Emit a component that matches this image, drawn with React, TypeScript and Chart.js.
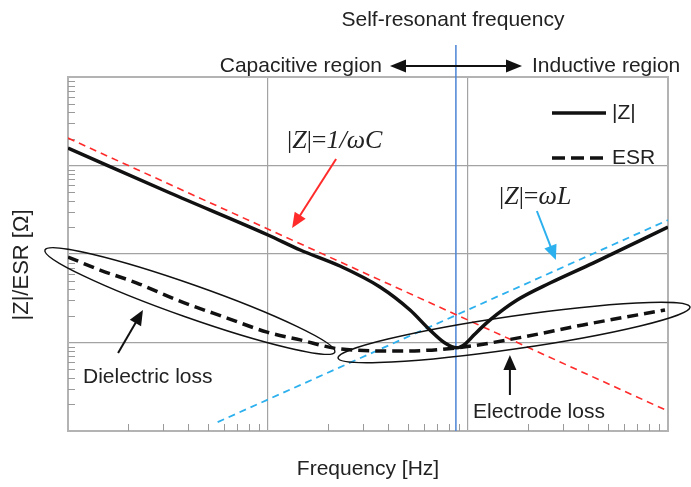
import React, { useEffect, useRef } from 'react';
import { Chart, registerables } from 'chart.js';

Chart.register(...registerables);

// ---- axis structure ----
const xDecades = [1, 10, 100, 1000];
const yDecades = [1, 10, 100, 1000, 10000];
const minorMultipliers = [2, 3, 4, 5, 6, 7, 8, 9];

// ---- series ----
const zFreq = [1, 3.24, 10, 14.5, 22.9, 36.3, 51.3, 64.6, 76.7, 88, 96.6, 108, 129, 176, 257, 422, 1000];
const zValues = [1577, 489, 164, 111, 73.2, 42.4, 23.3, 13.8, 9.87, 8.7, 9.6, 12.4, 18, 30.2, 47, 79, 202];

const esrFreq = [1, 1.445, 2.21, 3.51, 6.24, 9.9, 14.5, 22.9, 45.7, 88, 176, 376, 966];
const esrValues = [92.5, 65.9, 47, 30.2, 18.9, 13.1, 10.7, 8.45, 8.0, 8.7, 11.2, 15.8, 23.3];

const capFreq = [1, 1000];
const capValues = [2040, 1.68];

const indFreq = [5.6, 1000];
const indValues = [1.26, 242];

const resonantFreq = 87;

// ---- annotations in data space: [freq, value] ----
const dielectricEllipse = [[0.767, 111], [21.6, 7.81]];
const electrodeEllipse = [[22.4, 6.68], [1288, 25.2]];
const capArrow = [[21.9, 1184], [13.2, 197]];
const indArrow = [[221, 306], [275, 85.5]];
const dielectricArrow = [[1.78, 7.6], [2.37, 23.3]];
const electrodeArrow = [[162, 2.55], [162, 7.22]];

const SANS = '"Liberation Sans", Arial, sans-serif';
const SERIF = '"Liberation Serif", "Times New Roman", serif';
const RED = '#ff2b2b';
const SKY = '#2db0ee';

function toPts(fs: number[], vs: number[]) {
  return fs.map((f, i) => ({ x: f, y: vs[i] }));
}

function arrow(ctx: CanvasRenderingContext2D, x1: number, y1: number, x2: number, y2: number, color: string, lw: number, hl: number, hw: number) {
  const ang = Math.atan2(y2 - y1, x2 - x1);
  ctx.save();
  ctx.strokeStyle = color;
  ctx.fillStyle = color;
  ctx.lineWidth = lw;
  ctx.beginPath();
  ctx.moveTo(x1, y1);
  ctx.lineTo(x2 - Math.cos(ang) * hl * 0.8, y2 - Math.sin(ang) * hl * 0.8);
  ctx.stroke();
  ctx.beginPath();
  ctx.moveTo(x2, y2);
  ctx.lineTo(x2 - Math.cos(ang) * hl + Math.sin(ang) * hw / 2, y2 - Math.sin(ang) * hl - Math.cos(ang) * hw / 2);
  ctx.lineTo(x2 - Math.cos(ang) * hl - Math.sin(ang) * hw / 2, y2 - Math.sin(ang) * hl + Math.cos(ang) * hw / 2);
  ctx.closePath();
  ctx.fill();
  ctx.restore();
}

function richText(ctx: CanvasRenderingContext2D, segs: [string, boolean][], x: number, y: number, size: number) {
  let cx = x;
  ctx.save();
  ctx.textBaseline = 'middle';
  ctx.textAlign = 'left';
  ctx.fillStyle = '#222';
  for (const [t, it] of segs) {
    ctx.font = `${it ? 'italic ' : ''}${size}px ${SERIF}`;
    ctx.fillText(t, cx, y);
    cx += ctx.measureText(t).width;
  }
  ctx.restore();
}

const annotate = {
  id: 'annotate',
  beforeDatasetsDraw(chart: any) {
    const { ctx, chartArea: a, scales } = chart;
    const xs = scales.x;
    const ys = scales.y;
    ctx.save();
    // border box
    ctx.strokeStyle = '#b3b3b3';
    ctx.lineWidth = 2;
    ctx.strokeRect(a.left, a.top, a.right - a.left, a.bottom - a.top);
    // minor ticks
    ctx.strokeStyle = '#9a9a9a';
    ctx.lineWidth = 1;
    for (const d of yDecades.slice(0, -1)) {
      for (const m of minorMultipliers) {
        const py = Math.round(ys.getPixelForValue(d * m)) + 0.5;
        ctx.beginPath();
        ctx.moveTo(a.left, py);
        ctx.lineTo(a.left + 7, py);
        ctx.stroke();
      }
    }
    for (const d of xDecades.slice(0, -1)) {
      for (const m of minorMultipliers) {
        const px = Math.round(xs.getPixelForValue(d * m)) + 0.5;
        ctx.beginPath();
        ctx.moveTo(px, a.bottom);
        ctx.lineTo(px, a.bottom - 7);
        ctx.stroke();
      }
    }
    // self-resonant line
    const rx = xs.getPixelForValue(resonantFreq);
    ctx.strokeStyle = '#4a84d6';
    ctx.lineWidth = 1.5;
    ctx.beginPath();
    ctx.moveTo(rx, 45);
    ctx.lineTo(rx, a.bottom);
    ctx.stroke();
    ctx.restore();
  },
  afterDraw(chart: any) {
    const { ctx, scales } = chart;
    const xs = scales.x;
    const ys = scales.y;
    const P = (p: number[]) => [xs.getPixelForValue(p[0]), ys.getPixelForValue(p[1])];
    ctx.save();
    // ellipses
    ctx.strokeStyle = '#111';
    ctx.lineWidth = 1.5;
    for (const e of [dielectricEllipse, electrodeEllipse]) {
      const [x1, y1] = P(e[0]);
      const [x2, y2] = P(e[1]);
      const rx = Math.hypot(x2 - x1, y2 - y1) / 2;
      ctx.beginPath();
      ctx.ellipse((x1 + x2) / 2, (y1 + y2) / 2, rx, 16.5, Math.atan2(y2 - y1, x2 - x1), 0, Math.PI * 2);
      ctx.stroke();
    }
    // arrows
    const drawA = (ar: number[][], color: string) => {
      const [x1, y1] = P(ar[0]);
      const [x2, y2] = P(ar[1]);
      arrow(ctx, x1, y1, x2, y2, color, 2, 15, 13);
    };
    drawA(capArrow, RED);
    drawA(indArrow, SKY);
    drawA(dielectricArrow, '#111');
    drawA(electrodeArrow, '#111');

    // top double arrow
    arrow(ctx, 456, 66, 390, 66, '#111', 2, 16, 13);
    arrow(ctx, 456, 66, 522, 66, '#111', 2, 16, 13);

    // texts
    ctx.fillStyle = '#222';
    ctx.textBaseline = 'middle';
    ctx.font = `21px ${SANS}`;
    ctx.textAlign = 'center';
    ctx.fillText('Self-resonant frequency', 453, 20);
    ctx.textAlign = 'right';
    ctx.fillText('Capacitive region', 382, 66);
    ctx.textAlign = 'left';
    ctx.fillText('Inductive region', 532, 66);
    ctx.fillText('Dielectric loss', 83, 377);
    ctx.fillText('Electrode loss', 473, 412);

    // y axis title
    ctx.save();
    ctx.translate(22, 265);
    ctx.rotate(-Math.PI / 2);
    ctx.textAlign = 'center';
    ctx.font = `22px ${SANS}`;
    ctx.fillText('|Z|/ESR [Ω]', 0, 0);
    ctx.restore();

    // legend
    ctx.strokeStyle = '#111';
    ctx.lineWidth = 3.5;
    ctx.beginPath();
    ctx.moveTo(552, 113);
    ctx.lineTo(606, 113);
    ctx.stroke();
    ctx.setLineDash([13, 6]);
    ctx.beginPath();
    ctx.moveTo(552, 158);
    ctx.lineTo(606, 158);
    ctx.stroke();
    ctx.setLineDash([]);
    ctx.fillText('|Z|', 612, 113);
    ctx.fillText('ESR', 612, 158);

    richText(ctx, [['|', false], ['Z', true], ['|=', false], ['1/ωC', true]], 287, 141, 26);
    richText(ctx, [['|', false], ['Z', true], ['|=', false], ['ωL', true]], 499, 197, 26);
    ctx.restore();
  },
};

export default function App() {
  const ref = useRef<HTMLCanvasElement | null>(null);
  useEffect(() => {
    if (!ref.current) return;
    const chart = new Chart(ref.current, {
      type: 'line',
      data: {
        datasets: [
          {
            label: '|Z|',
            data: toPts(zFreq, zValues),
            borderColor: '#111',
            borderWidth: 3.5,
            pointRadius: 0,
            cubicInterpolationMode: 'monotone',
          },
          {
            label: 'ESR',
            data: toPts(esrFreq, esrValues),
            borderColor: '#111',
            borderWidth: 3.5,
            borderDash: [11, 6],
            pointRadius: 0,
            cubicInterpolationMode: 'monotone',
          },
          {
            label: '|Z|=1/ωC',
            data: toPts(capFreq, capValues),
            borderColor: RED,
            borderWidth: 1.6,
            borderDash: [7, 5],
            pointRadius: 0,
          },
          {
            label: '|Z|=ωL',
            data: toPts(indFreq, indValues),
            borderColor: SKY,
            borderWidth: 1.8,
            borderDash: [7, 5],
            pointRadius: 0,
          },
        ],
      },
      options: {
        animation: false,
        responsive: false,
        devicePixelRatio: 1,
        layout: { padding: { top: 77, right: 23, left: 0, bottom: 0 } },
        plugins: { legend: { display: false }, tooltip: { enabled: false }, title: { display: false } },
        scales: {
          x: {
            type: 'logarithmic',
            min: 1,
            max: 1000,
            afterBuildTicks: (s: any) => { s.ticks = xDecades.map((v) => ({ value: v })); },
            afterFit: (s: any) => { s.height = 56; },
            ticks: { display: false },
            grid: { color: '#a3a3a3', lineWidth: 1.2, drawTicks: false },
            border: { display: false },
            title: {
              display: true,
              text: 'Frequency [Hz]',
              color: '#222',
              font: { family: SANS, size: 21 },
              padding: { top: 0, bottom: 5 },
            },
          },
          y: {
            type: 'logarithmic',
            min: 1,
            max: 10000,
            afterBuildTicks: (s: any) => { s.ticks = yDecades.map((v) => ({ value: v })); },
            afterFit: (s: any) => { s.width = 68; },
            ticks: { display: false },
            grid: { color: '#a3a3a3', lineWidth: 1.2, drawTicks: false },
            border: { display: false },
            title: { display: false },
          },
        },
      },
      plugins: [annotate],
    } as any);
    return () => chart.destroy();
  }, []);
  return (
    <div style={{ position: 'absolute', left: 0, top: 0, width: 691, height: 487, background: '#fff' }}>
      <canvas ref={ref} width={691} height={487} style={{ display: 'block' }} />
    </div>
  );
}
